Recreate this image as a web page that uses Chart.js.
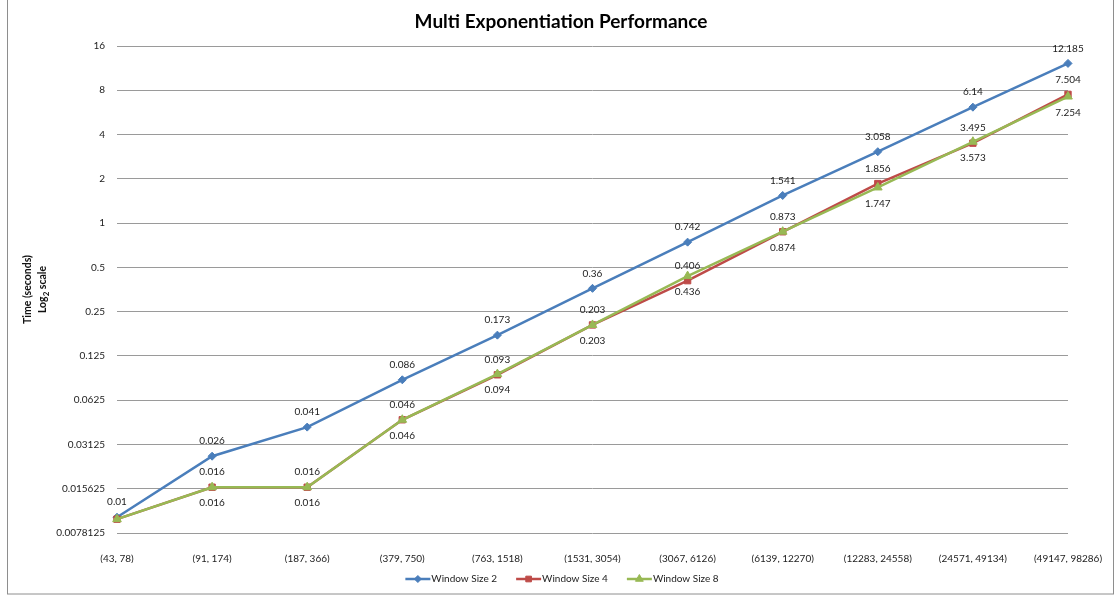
<!DOCTYPE html>
<html>
<head>
<meta charset="utf-8">
<title>Multi Exponentiation Performance</title>
<script src="https://cdn.jsdelivr.net/npm/chart.js@4.4.0/dist/chart.umd.min.js"></script>
<style>
  html, body { margin: 0; padding: 0; background: #fff; }
  #wrap { width: 1117px; height: 598px; position: relative; }
</style>
</head>
<body>
<div id="wrap"><canvas id="perfChart" width="1117" height="598"></canvas></div>
<script>
const categories = ['(43, 78)', '(91, 174)', '(187, 366)', '(379, 750)', '(763, 1518)', '(1531, 3054)',
    '(3067, 6126)', '(6139, 12270)', '(12283, 24558)', '(24571, 49134)', '(49147, 98286)'];
const windowSize2 = [0.01, 0.026, 0.041, 0.086, 0.173, 0.36, 0.742, 1.541, 3.058, 6.14, 12.185];
const windowSize4 = [0.0097, 0.016, 0.016, 0.046, 0.093, 0.203, 0.406, 0.873, 1.856, 3.495, 7.504];
const windowSize8 = [0.0097, 0.016, 0.016, 0.046, 0.094, 0.203, 0.436, 0.874, 1.747, 3.573, 7.254];
const yTicks = [0.0078125, 0.015625, 0.03125, 0.0625, 0.125, 0.25, 0.5, 1, 2, 4, 8, 16];

const FONT = 'Lato, "Open Sans", sans-serif';

document.addEventListener('DOMContentLoaded', () => {
    setupChart();
});

// white background + thin frame like the spreadsheet chart area
const frame = {
    id: 'frame',
    beforeDraw(chart) {
        const ctx = chart.ctx;
        ctx.save();
        ctx.fillStyle = '#fff';
        ctx.fillRect(0, 0, chart.width, chart.height);
        ctx.strokeStyle = '#8e8e8e';
        ctx.lineWidth = 1;
        ctx.strokeRect(7.5, -2, 1106, 596);
        ctx.restore();
    }
};

// value labels next to each point
const pointLabels = {
    id: 'pointLabels',
    afterDatasetsDraw(chart) {
        const ctx = chart.ctx;
        ctx.save();
        ctx.font = '10px ' + FONT;
        ctx.fillStyle = '#222';
        ctx.textAlign = 'center';
        ctx.textBaseline = 'middle';
        chart.data.datasets.forEach((ds, i) => {
            const meta = chart.getDatasetMeta(i);
            meta.data.forEach((pt, j) => {
                if (ds.skipLabels && ds.skipLabels.includes(j)) return;
                const dy = ds.labelSide === 'below' ? 16 : -15;
                ctx.fillText(String(ds.data[j]), pt.x, pt.y + dy);
            });
        });
        ctx.restore();
    }
};

// rotated y axis title with a subscript 2
const yTitle = {
    id: 'yTitle',
    afterDraw(chart) {
        const ctx = chart.ctx;
        const cy = (chart.chartArea.top + chart.chartArea.bottom) / 2;
        ctx.save();
        ctx.fillStyle = '#111';
        ctx.textBaseline = 'middle';
        ctx.translate(28, cy);
        ctx.rotate(-Math.PI / 2);
        ctx.textAlign = 'center';
        ctx.font = 'bold 10.5px ' + FONT;
        ctx.fillText('Time (seconds)', 0, 0);

        // second line: Log₂ scale
        const big = 'bold 10.5px ' + FONT, small = 'bold 8px ' + FONT;
        ctx.font = big;
        const wLog = ctx.measureText('Log').width;
        const wScale = ctx.measureText(' scale').width;
        ctx.font = small;
        const wTwo = ctx.measureText('2').width;
        let x = -(wLog + wTwo + wScale) / 2;
        ctx.textAlign = 'left';
        ctx.font = big;
        ctx.fillText('Log', x, 15);
        x += wLog;
        ctx.font = small;
        ctx.fillText('2', x, 18);
        x += wTwo;
        ctx.font = big;
        ctx.fillText(' scale', x, 15);
        ctx.restore();
    }
};

// bottom legend: short line with the marker in its middle, text right after
const lineLegend = {
    id: 'lineLegend',
    afterDraw(chart) {
        const ctx = chart.ctx;
        const y = 579;
        const lineW = 25, gap = 1, spacing = 19;
        ctx.save();
        ctx.font = '10px ' + FONT;
        const items = chart.data.datasets.map(ds => ({ ds, w: lineW + gap + ctx.measureText(ds.label).width }));
        const total = items.reduce((s, it) => s + it.w, 0) + spacing * (items.length - 1);
        let x = 562 - total / 2;
        items.forEach(({ ds, w }) => {
            ctx.strokeStyle = ds.borderColor;
            ctx.lineWidth = 2.5;
            ctx.beginPath();
            ctx.moveTo(x, y);
            ctx.lineTo(x + lineW, y);
            ctx.stroke();
            ctx.fillStyle = ds.pointBackgroundColor;
            ctx.strokeStyle = ds.pointBorderColor;
            ctx.lineWidth = 1;
            Chart.helpers.drawPoint(ctx, { pointStyle: ds.pointStyle, radius: ds.pointRadius - 0.5, rotation: 0, borderWidth: 1 }, x + lineW / 2, y);
            ctx.fillStyle = '#222';
            ctx.textAlign = 'left';
            ctx.textBaseline = 'middle';
            ctx.fillText(ds.label, x + lineW + gap, y);
            x += w + spacing;
        });
        ctx.restore();
    }
};

function setupChart() {
    const ctx = document.getElementById('perfChart').getContext('2d');

    new Chart(ctx, {
        type: 'line',
        data: {
            labels: categories,
            datasets: [{
                label: 'Window Size 2',
                data: windowSize2,
                borderColor: '#4a7ebb',
                pointBackgroundColor: '#4a7ebb',
                pointBorderColor: '#4a7ebb',
                pointStyle: 'rectRot',
                pointRadius: 4,
                labelSide: 'above',
                order: 3
            }, {
                label: 'Window Size 4',
                data: windowSize4,
                borderColor: '#be4b48',
                pointBackgroundColor: '#be4b48',
                pointBorderColor: '#be4b48',
                pointStyle: 'rect',
                pointRadius: 4.5,
                labelSide: 'above',
                skipLabels: [0],
                order: 2
            }, {
                label: 'Window Size 8',
                data: windowSize8,
                borderColor: '#98b954',
                pointBackgroundColor: '#98b954',
                pointBorderColor: '#98b954',
                pointStyle: 'triangle',
                pointRadius: 5,
                labelSide: 'below',
                skipLabels: [0],
                order: 1
            }]
        },
        options: {
            responsive: false,
            animation: false,
            devicePixelRatio: 1,
            layout: { padding: { left: 54, right: 49, top: 0, bottom: 35 } },
            elements: {
                line: { borderWidth: 2.5, tension: 0 },
                point: { borderWidth: 1, hoverRadius: 5 }
            },
            plugins: {
                legend: { display: false },
                tooltip: { enabled: false },
                title: {
                    display: true,
                    text: 'Multi Exponentiation Performance',
                    color: '#000',
                    font: { family: FONT, size: 19, weight: 'bold', lineHeight: 1.2 },
                    padding: { top: 10, bottom: 13.2 }
                }
            },
            scales: {
                x: {
                    type: 'category',
                    offset: false,
                    grid: { display: false },
                    border: { display: false },
                    ticks: {
                        color: '#222',
                        font: { family: FONT, size: 10 },
                        maxRotation: 0,
                        autoSkip: false,
                        padding: 12
                    },
                    afterFit: s => { s.height = 30; }
                },
                y: {
                    type: 'logarithmic',
                    min: yTicks[0],
                    max: yTicks[yTicks.length - 1],
                    grid: { color: '#9a9a9a', lineWidth: 1, drawTicks: false },
                    border: { display: false },
                    afterBuildTicks: s => { s.ticks = yTicks.map(v => ({ value: v })); },
                    ticks: {
                        color: '#222',
                        font: { family: FONT, size: 10 },
                        padding: 12,
                        callback: v => String(v)
                    },
                    afterFit: s => { s.width = 63; }
                }
            }
        },
        plugins: [frame, pointLabels, yTitle, lineLegend]
    });
}
</script>
</body>
</html>
